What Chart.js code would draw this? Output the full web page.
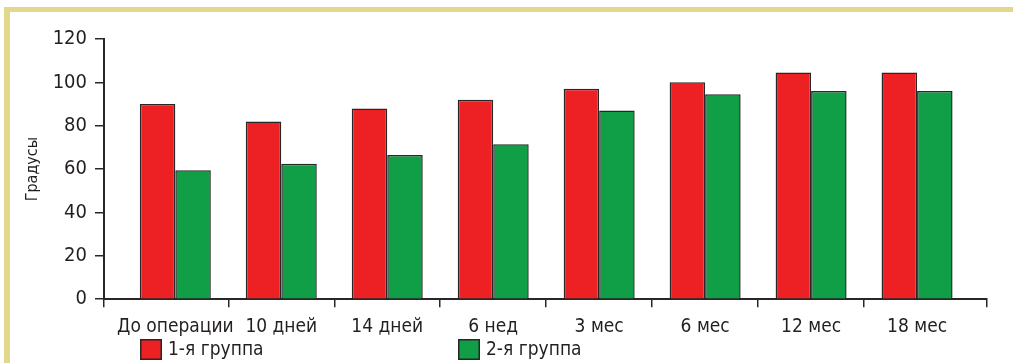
<!DOCTYPE html>
<html>
<head>
<meta charset="utf-8">
<script src="https://cdn.jsdelivr.net/npm/chart.js@4.4.0/dist/chart.umd.min.js"></script>
<style>
html, body { margin: 0; padding: 0; background: #fff; }
#wrap { position: relative; width: 1013px; height: 363px; overflow: hidden; }
#frame { position: absolute; left: 4px; top: 7px; right: 0; bottom: 0; border-top: 5px solid #e2d78b; border-left: 6px solid #e2d78b; }
canvas { position: absolute; left: 0; top: 0; }
</style>
</head>
<body>
<div id="wrap"><div id="frame"></div><canvas id="canvas" width="1013" height="363"></canvas></div>
<script>
const categories = ['До операции', '10 дней', '14 дней', '6 нед', '3 мес', '6 мес', '12 мес', '18 мес']
const group1 = [90, 82, 88, 92, 97, 100, 104.5, 104.6]
const group2 = [59.5, 62.5, 66.5, 71.5, 87, 94.5, 96, 96]
const seriesNames = ['1-я группа', '2-я группа']
const yTicks = [0, 20, 40, 60, 80, 100, 120]

const FONT = '"Liberation Sans Narrow", "DejaVu Sans Condensed", sans-serif'
const INK = '#2a2627'
const RED = '#ed2024'
const GREEN = '#109e47'

// axis runs a bit past the first and last category
const xMin = -0.673
const xMax = 7.66
const boundaries = [xMin, ...categories.slice(1).map((c, i) => i + 0.5), xMax]

const legendRow = {
    id: 'legendRow',
    afterDraw(chart) {
        const ctx = chart.ctx
        const lefts = [140, 458]
        const top = 339
        ctx.save()
        ctx.font = '19px ' + FONT
        ctx.textBaseline = 'middle'
        ctx.textAlign = 'left'
        chart.data.datasets.forEach((ds, i) => {
            ctx.fillStyle = ds.backgroundColor
            ctx.fillRect(lefts[i], top, 22, 21)
            ctx.lineWidth = 1.5
            ctx.strokeStyle = INK
            ctx.strokeRect(lefts[i] + 0.75, top + 0.75, 20.5, 19.5)
            ctx.fillStyle = '#231f20'
            ctx.fillText(ds.label, lefts[i] + 28, top + 11)
        })
        ctx.restore()
    }
}

const context = document.getElementById('canvas').getContext('2d')

new Chart(context, {
    type: 'bar',
    data: {
        datasets: [{
            label: seriesNames[0],
            data: group1.map((v, i) => ({ x: i, y: v })),
            backgroundColor: RED,
            borderColor: INK,
            borderWidth: 1.5,
            borderSkipped: 'start',
        }, {
            label: seriesNames[1],
            data: group2.map((v, i) => ({ x: i, y: v })),
            backgroundColor: GREEN,
            borderColor: INK,
            borderWidth: 1.5,
            borderSkipped: 'start',
        }]
    },
    options: {
        responsive: false,
        animation: false,
        devicePixelRatio: 1,
        categoryPercentage: 0.67,
        barPercentage: 1,
        layout: { padding: { top: 39, left: 0, right: 26, bottom: 17 } },
        scales: {
            x: {
                type: 'linear',
                offset: false,
                min: xMin,
                max: xMax,
                afterBuildTicks: scale => { scale.ticks = boundaries.map(v => ({ value: v })) },
                ticks: { display: false },
                grid: { offset: false, drawOnChartArea: false, tickLength: 8, color: INK, lineWidth: 1.5 },
                border: { display: true, color: INK, width: 2 },
            },
            y: {
                min: 0,
                max: 120,
                afterBuildTicks: scale => { scale.ticks = yTicks.map(v => ({ value: v })) },
                afterFit: scale => { scale.width = 104 },
                ticks: {
                    color: '#231f20',
                    padding: 8,
                    font: { size: 20, family: FONT },
                },
                grid: { drawOnChartArea: false, tickLength: 9, color: INK, lineWidth: 1.5 },
                border: { display: true, color: INK, width: 2 },
                title: {
                    display: true,
                    text: 'Градусы',
                    color: '#231f20',
                    padding: { top: 23, bottom: 0 },
                    font: { size: 16, family: FONT },
                }
            },
            xl: {
                type: 'linear',
                position: 'bottom',
                offset: false,
                min: xMin,
                max: xMax,
                afterBuildTicks: scale => { scale.ticks = categories.map((c, i) => ({ value: i })) },
                ticks: {
                    color: '#231f20',
                    padding: 8,
                    autoSkip: false,
                    maxRotation: 0,
                    font: { size: 19, family: FONT },
                    callback: v => categories[v],
                },
                grid: { display: false, drawTicks: false, offset: false },
                border: { display: false },
            }
        },
        plugins: {
            legend: { display: false },
            tooltip: { enabled: false },
        }
    },
    plugins: [legendRow]
})
</script>
</body>
</html>
